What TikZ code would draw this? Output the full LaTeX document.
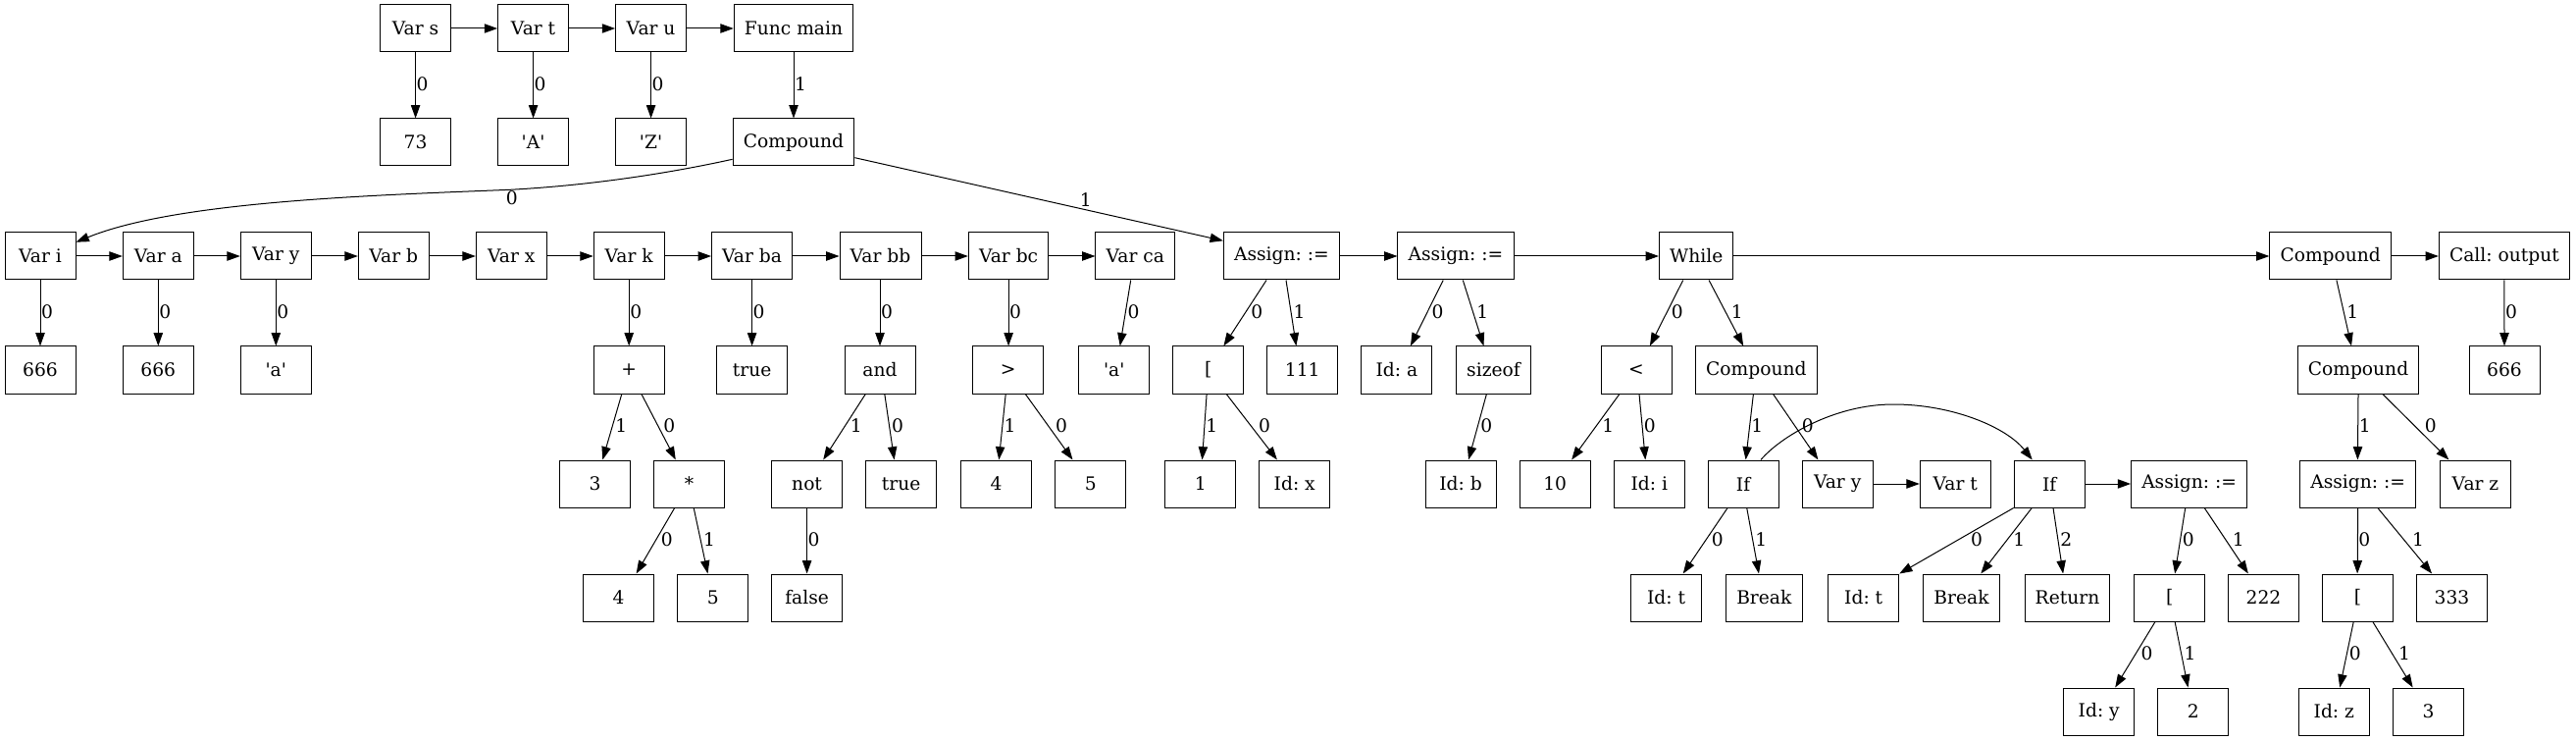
\documentclass[tikz,border=0pt]{standalone}
\usepackage{fontspec}
\setmainfont{DejaVu Serif}[Ligatures=TeXOff]
\usetikzlibrary{arrows.meta,calc}
\begin{document}
\frenchspacing
\begin{tikzpicture}[x=0.75pt,y=-0.75pt,
  box/.style={draw, line width=0.75pt, minimum width=54pt, minimum height=36pt, inner xsep=8pt, inner ysep=0pt, font=\fontsize{14}{16}\selectfont\frenchspacing},
  e/.style={line width=0.75pt, -{Triangle[length=10pt,width=7pt]}},
  lab/.style={font=\fontsize{14}{16}\selectfont, inner sep=0pt},
  lv/.style={lab, midway, xshift=5.25pt, yshift=1pt},
  ls/.style={lab, midway, xshift=#1, yshift=1pt}]
\useasboundingbox (0,0) rectangle (2626,755);
% row 1
\node[box] (vs) at (423.6,29) {Var s};
\node[box] (vt) at (543.6,29) {Var t};
\node[box] (vu) at (663.6,29) {Var u};
\node[box] (fm) at (809,29) {Func main};
% row 2
\node[box] (n73) at (423.6,145) {73};
\node[box] (nA) at (543.6,145) {'A'};
\node[box] (nZ) at (663.6,145) {'Z'};
\node[box] (c1) at (809,145) {Compound};
% row 3
\node[box] (vi) at (41,261) {Var i};
\node[box] (va) at (161.3,261) {Var a};
\node[box] (vy) at (281.3,261) {Var y};
\node[box] (vb) at (401.3,261) {Var b};
\node[box] (vx) at (521.3,261) {Var x};
\node[box] (vk) at (641.2,261) {Var k};
\node[box] (vba) at (766.6,261) {Var ba};
\node[box] (vbb) at (897.5,261) {Var bb};
\node[box] (vbc) at (1028.1,261) {Var bc};
\node[box] (vca) at (1157.3,261) {Var ca};
\node[box] (as1) at (1306.4,261) {Assign: :=};
\node[box] (as2) at (1484,261) {Assign: :=};
\node[box] (wh) at (1729.2,261) {While};
\node[box] (c3) at (2375.7,261) {Compound};
\node[box] (call) at (2552.9,261) {Call: output};
% row 4
\node[box] (n666a) at (41,377) {666};
\node[box] (n666b) at (161.3,377) {666};
\node[box] (nac) at (281.3,377) {'a'};
\node[box] (plus) at (641.2,377) {+};
\node[box] (tr1) at (766.6,377) {true};
\node[box] (and) at (897,377) {and};
\node[box] (gt) at (1027.6,377) {>};
\node[box] (nca) at (1135.7,377) {'a'};
\node[box] (br1) at (1231.8,377) {[};
\node[box] (n111) at (1327.7,377) {111};
\node[box] (ida) at (1423.9,377) {Id: a};
\node[box] (szof) at (1522.5,377) {sizeof};
\node[box] (lt) at (1668,377) {<};
\node[box] (c2) at (1790.3,377) {Compound};
\node[box] (c4) at (2404,377) {Compound};
\node[box] (n666c) at (2553,377) {666};
% row 5
\node[box] (n3) at (606.5,493) {3};
\node[box] (star) at (702.6,493) {*};
\node[box] (nnot) at (822.6,493) {not};
\node[box] (tr2) at (918.7,493) {true};
\node[box] (n4a) at (1015.5,493) {4};
\node[box] (n5a) at (1111.8,493) {5};
\node[box] (n1) at (1223.8,493) {1};
\node[box] (idx) at (1319.7,493) {Id: x};
\node[box] (idb) at (1489,493) {Id: b};
\node[box] (n10) at (1585.2,493) {10};
\node[box] (idi) at (1681.3,493) {Id: i};
\node[box] (if1) at (1777,493) {If};
\node[box] (vy2) at (1873.2,493) {Var y};
\node[box] (vt2) at (1993.3,493) {Var t};
\node[box] (if2) at (2089.2,493) {If};
\node[box] (as3) at (2231.6,493) {Assign: :=};
\node[box] (as4) at (2403.7,493) {Assign: :=};
\node[box] (vz) at (2523.5,493) {Var z};
% row 6
\node[box] (n4b) at (630.5,609) {4};
\node[box] (n5b) at (726.7,609) {5};
\node[box] (fls) at (822.6,609) {false};
\node[box] (idt1) at (1698.6,609) {Id: t};
\node[box] (brk1) at (1798.3,609) {Break};
\node[box] (idt2) at (1899.7,609) {Id: t};
\node[box] (brk2) at (1999.5,609) {Break};
\node[box] (ret) at (2107.5,609) {Return};
\node[box] (br2) at (2211.7,609) {[};
\node[box] (n222) at (2307.5,609) {222};
\node[box] (br3) at (2403.4,609) {[};
\node[box] (n333) at (2499.5,609) {333};
% row 7
\node[box] (idy) at (2139.7,725) {Id: y};
\node[box] (n2) at (2235.8,725) {2};
\node[box] (idz) at (2379.3,725) {Id: z};
\node[box] (n3b) at (2475.5,725) {3};

% horizontal chains
\draw[e] (vs.east) -- (vt.west);
\draw[e] (vt.east) -- (vu.west);
\draw[e] (vu.east) -- (fm.west);
\draw[e] (vi.east) -- (va.west);
\draw[e] (va.east) -- (vy.west);
\draw[e] (vy.east) -- (vb.west);
\draw[e] (vb.east) -- (vx.west);
\draw[e] (vx.east) -- (vk.west);
\draw[e] (vk.east) -- (vba.west);
\draw[e] (vba.east) -- (vbb.west);
\draw[e] (vbb.east) -- (vbc.west);
\draw[e] (vbc.east) -- (vca.west);
\draw[e] (as1.east) -- (as2.west);
\draw[e] (as2.east) -- (wh.west);
\draw[e] (wh.east) -- (c3.west);
\draw[e] (c3.east) -- (call.west);
\draw[e] (vy2.east) -- (vt2.west);
\draw[e] (if2.east) -- (as3.west);

% vertical labelled edges
\draw[e] (vs) -- (n73) node[lv]{0};
\draw[e] (vt) -- (nA) node[lv]{0};
\draw[e] (vu) -- (nZ) node[lv]{0};
\draw[e] (fm) -- (c1) node[lv]{1};
\draw[e] (vi) -- (n666a) node[lv]{0};
\draw[e] (va) -- (n666b) node[lv]{0};
\draw[e] (vy) -- (nac) node[lv]{0};
\draw[e] (vk) -- (plus) node[lv]{0};
\draw[e] (vba) -- (tr1) node[lv]{0};
\draw[e] ($(vbb.south)+(-0.5,0)$) -- (and.north) node[lv]{0};
\draw[e] (vbc.south) -- ($(gt.north)+(0.5,0)$) node[lv]{0};
\draw[e] (nnot) -- (fls) node[lv]{0};
\draw[e] (call) -- (n666c) node[lv]{0};
\draw[e] (c4.south) -- ($(as4.north)+(-0.3,0)$) node[lv]{1};
\draw[e] (as4.south) -- ($(br3.north)+(-0.3,0)$) node[lv]{0};

% slanted labelled edges
\draw[e] ($(vca.south)+(-4.6,0)$) -- ($(nca.north)+(6,0)$) node[ls=6.2pt]{0};
\draw[e] ($(plus.south)+(-7.4,0)$) -- ($(n3.north)+(7.8,0)$) node[ls=7pt]{1};
\draw[e] ($(plus.south)+(12.7,0)$) -- ($(star.north)+(-13.8,0)$) node[ls=8.3pt]{0};
\draw[e] ($(star.south)+(-14.9,0)$) -- ($(n4b.north)+(18.1,0)$) node[ls=8.7pt]{0};
\draw[e] ($(star.south)+(4.6,0)$) -- ($(n5b.north)+(-5.2,0)$) node[ls=6.5pt]{1};
\draw[e] ($(and.south)+(-14.7,0)$) -- ($(nnot.north)+(16.6,0)$) node[ls=9.1pt]{1};
\draw[e] ($(and.south)+(4.8,0)$) -- ($(tr2.north)+(-7.1,0)$) node[ls=6.2pt]{0};
\draw[e] ($(gt.south)+(-2.4,0)$) -- ($(n4a.north)+(2.8,0)$) node[ls=5.9pt]{1};
\draw[e] ($(gt.south)+(17.7,0)$) -- ($(n5a.north)+(-18.3,0)$) node[ls=9.5pt]{0};
\draw[e] ($(as1.south)+(-15.4,0)$) -- ($(br1.north)+(15.6,0)$) node[ls=9.1pt]{0};
\draw[e] ($(as1.south)+(4.6,0)$) -- ($(n111.north)+(-6.3,0)$) node[ls=6.2pt]{1};
\draw[e] ($(br1.south)+(-1.7,0)$) -- ($(n1.north)+(1.7,0)$) node[ls=5.6pt]{1};
\draw[e] ($(br1.south)+(18.4,0)$) -- ($(idx.north)+(-17.8,0)$) node[ls=9.8pt]{0};
\draw[e] ($(as2.south)+(-12.8,0)$) -- ($(ida.north)+(14,0)$) node[ls=8.2pt]{0};
\draw[e] ($(as2.south)+(7.3,0)$) -- ($(szof.north)+(-10,0)$) node[ls=7.1pt]{1};
\draw[e] ($(szof.south)+(-7.1,0)$) -- ($(idb.north)+(8,0)$) node[ls=6.9pt]{0};
\draw[e] ($(wh.south)+(-13.5,0)$) -- ($(lt.north)+(13.9,0)$) node[ls=8.3pt]{0};
\draw[e] ($(wh.south)+(12.9,0)$) -- ($(c2.north)+(-13.1,0)$) node[ls=8.3pt]{1};
\draw[e] ($(lt.south)+(-17.1,0)$) -- ($(n10.north)+(16.9,0)$) node[ls=9.5pt]{1};
\draw[e] ($(lt.south)+(3,0)$) -- ($(idi.north)+(-4,0)$) node[ls=5.8pt]{0};
\draw[e] ($(c2.south)+(-2.9,0)$) -- ($(if1.north)+(2.6,0)$) node[ls=5.9pt]{1};
\draw[e] ($(c2.south)+(17.2,0)$) -- ($(vy2.north)+(-19.8,0)$) node[ls=9.3pt]{0};
\draw[e] ($(if1.south)+(-15.9,0)$) -- ($(idt1.north)+(17.1,0)$) node[ls=9.2pt]{0};
\draw[e] ($(if1.south)+(3.7,0)$) -- ($(brk1.north)+(-5.3,0)$) node[ls=6.3pt]{1};
\draw[e] (if2.south west) -- (idt2.north east) node[ls=15.4pt]{0};
\draw[e] ($(if2.south)+(-17.9,0)$) -- ($(brk2.north)+(19.8,0)$) node[ls=9.8pt]{1};
\draw[e] ($(if2.south)+(3.8,0)$) -- ($(ret.north)+(-4.4,0)$) node[ls=6.2pt]{2};
\draw[e] ($(as3.south)+(-3.9,0)$) -- ($(br2.north)+(5.4,0)$) node[ls=6.2pt]{0};
\draw[e] ($(as3.south)+(15.6,0)$) -- ($(n222.north)+(-15.6,0)$) node[ls=9.2pt]{1};
\draw[e] ($(br2.south)+(-14.7,0)$) -- ($(idy.north)+(16.5,0)$) node[ls=8.9pt]{0};
\draw[e] ($(br2.south)+(5.4,0)$) -- ($(n2.north)+(-5.3,0)$) node[ls=6.5pt]{1};
\draw[e] ($(c3.south)+(6.2,0)$) -- ($(c4.north)+(-7,0)$) node[ls=6.6pt]{1};
\draw[e] ($(c4.south)+(24.8,0)$) -- ($(vz.north)+(-27.1,0)$) node[ls=11.3pt]{0};
\draw[e] ($(as4.south)+(20.1,0)$) -- ($(n333.north)+(-20.4,0)$) node[ls=10.1pt]{1};
\draw[e] ($(br3.south)+(-4.2,0)$) -- ($(idz.north)+(5.9,0)$) node[ls=6.5pt]{0};
\draw[e] ($(br3.south)+(15.4,0)$) -- ($(n3b.north)+(-15.9,0)$) node[ls=8.9pt]{1};

% curved edges from the top Compound
\draw[e] ($(c1.west)+(0,17.3)$) .. controls (680,177) and (600,189) .. (520,193.3)
  .. controls (380,199) and (180,205) .. ($(vi.east)+(0,-14.3)$);
\node[lab] (l0) at (521.7,201.7) {0};
\draw[e] ($(c1.east)+(0,15.7)$) -- ($(as1.west)+(0,-15.7)$);
\node[lab] (l1) at (1106.7,203.5) {1};
% arc If -> If
\draw[e] ($(if1.north)+(18,0)$) .. controls (1815,445) and (1870,412) .. (1930,412)
  .. controls (1990,412) and (2045,435) .. ($(if2.north)+(-17.5,0)$);
\end{tikzpicture}
\end{document}
